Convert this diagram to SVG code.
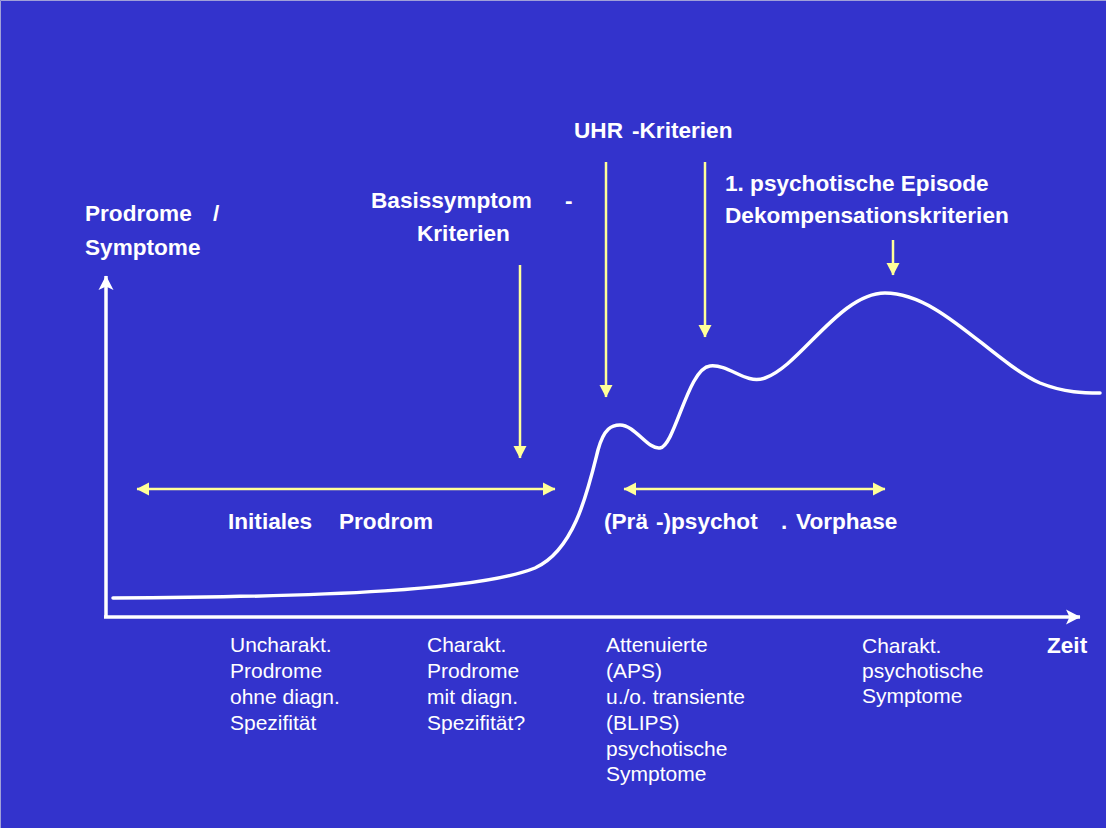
<svg xmlns="http://www.w3.org/2000/svg" width="1106" height="828" viewBox="0 0 1106 828">
  <style>
    .b { font-family: "Liberation Sans", Arial, sans-serif; font-weight: bold; font-size: 22.6px; fill: #FFFFFF; }
    .r { font-family: "Liberation Sans", Arial, sans-serif; font-size: 21px; fill: #FFFFFF; }
    .ax { stroke: #FFFFFF; stroke-width: 3.5; fill: none; }
    .ya { stroke: #FFFF99; stroke-width: 2.5; fill: none; }
    .curve { stroke: #FFFFFF; stroke-width: 3.5; fill: none; stroke-linecap: round; }
  </style>
  <defs>
    <marker id="yEnd" markerUnits="userSpaceOnUse" markerWidth="16" markerHeight="16" refX="12" refY="6.5" orient="auto" overflow="visible">
      <path d="M0,0 L12.5,6.5 L0,13 z" fill="#FFFF99"/>
    </marker>
    <marker id="yStart" markerUnits="userSpaceOnUse" markerWidth="16" markerHeight="16" refX="0.5" refY="6.5" orient="auto" overflow="visible">
      <path d="M12.5,0 L0,6.5 L12.5,13 z" fill="#FFFF99"/>
    </marker>
    <marker id="wEnd" markerUnits="userSpaceOnUse" markerWidth="18" markerHeight="18" refX="14" refY="7.5" orient="auto" overflow="visible">
      <path d="M0,0 L14.5,7.5 L0,15 L3.5,7.5 z" fill="#FFFFFF"/>
    </marker>
  </defs>

  <rect x="0" y="0" width="1106" height="828" fill="#3333CC"/>
  <path d="M0.5,828 L0.5,0.5 L1106,0.5" stroke="#A0A0D8" stroke-width="1" fill="none"/>

  <g id="connectors">
    <line id="y-axis" class="ax" x1="106" y1="618" x2="106" y2="276" marker-end="url(#wEnd)"/>
    <line id="x-axis" class="ax" x1="104" y1="617" x2="1080" y2="617" marker-end="url(#wEnd)"/>
    <path id="curve" class="curve" d="M113,598 C330,597 480,590 535,568 C575,550 588,490 598,450 C604,428 612,425 620,425 C635,425 648,450 660,448 C675,446 688,368 710,366 C730,364 745,385 765,378 C800,366 840,293 885,293 C940,293 990,360 1040,383 C1065,393 1085,393 1100,393"/>
    <line id="arrow-basis" class="ya" x1="520" y1="265" x2="520" y2="458" marker-end="url(#yEnd)"/>
    <line id="arrow-uhr" class="ya" x1="606" y1="162" x2="606" y2="397" marker-end="url(#yEnd)"/>
    <line id="arrow-uhr2" class="ya" x1="705" y1="162" x2="705" y2="337" marker-end="url(#yEnd)"/>
    <line id="arrow-episode" class="ya" x1="893" y1="240" x2="893" y2="275" marker-end="url(#yEnd)"/>
    <line id="span-initial" class="ya" x1="137" y1="489" x2="555" y2="489" marker-start="url(#yStart)" marker-end="url(#yEnd)"/>
    <line id="span-vorphase" class="ya" x1="624" y1="489" x2="885" y2="489" marker-start="url(#yStart)" marker-end="url(#yEnd)"/>
  </g>

  <g id="label-yaxis">
    <text class="b" y="221"><tspan x="85">Prodrome</tspan><tspan x="213">/</tspan></text>
    <text class="b" x="85" y="255">Symptome</text>
  </g>
  <g id="label-basis">
    <text class="b" y="208"><tspan x="371">Basissymptom</tspan><tspan x="565">-</tspan></text>
    <text class="b" x="417" y="241">Kriterien</text>
  </g>
  <g id="label-uhr">
    <text class="b" y="138"><tspan x="574">UHR</tspan><tspan x="632">-Kriterien</tspan></text>
  </g>
  <g id="label-episode">
    <text class="b" x="725" y="191">1. psychotische Episode</text>
    <text class="b" x="725" y="223">Dekompensationskriterien</text>
  </g>
  <g id="label-initial">
    <text class="b" y="529"><tspan x="228">Initiales</tspan><tspan x="339">Prodrom</tspan></text>
  </g>
  <g id="label-vorphase">
    <text class="b" y="529"><tspan x="604">(Prä</tspan><tspan x="656">-)psychot</tspan><tspan x="781">.</tspan><tspan x="796">Vorphase</tspan></text>
  </g>
  <g id="label-zeit">
    <text class="b" x="1047" y="653">Zeit</text>
  </g>
  <g id="col-1">
    <text class="r" x="230" y="652">Uncharakt.</text>
    <text class="r" x="230" y="678">Prodrome</text>
    <text class="r" x="230" y="704">ohne diagn.</text>
    <text class="r" x="230" y="730">Spezifität</text>
  </g>
  <g id="col-2">
    <text class="r" x="427" y="652">Charakt.</text>
    <text class="r" x="427" y="678">Prodrome</text>
    <text class="r" x="427" y="704">mit diagn.</text>
    <text class="r" x="427" y="730">Spezifität?</text>
  </g>
  <g id="col-3">
    <text class="r" x="606" y="652">Attenuierte</text>
    <text class="r" x="606" y="678">(APS)</text>
    <text class="r" x="606" y="704">u./o. transiente</text>
    <text class="r" x="606" y="730">(BLIPS)</text>
    <text class="r" x="606" y="756">psychotische</text>
    <text class="r" x="606" y="781">Symptome</text>
  </g>
  <g id="col-4">
    <text class="r" x="862" y="653">Charakt.</text>
    <text class="r" x="862" y="678">psychotische</text>
    <text class="r" x="862" y="703">Symptome</text>
  </g>
</svg>
